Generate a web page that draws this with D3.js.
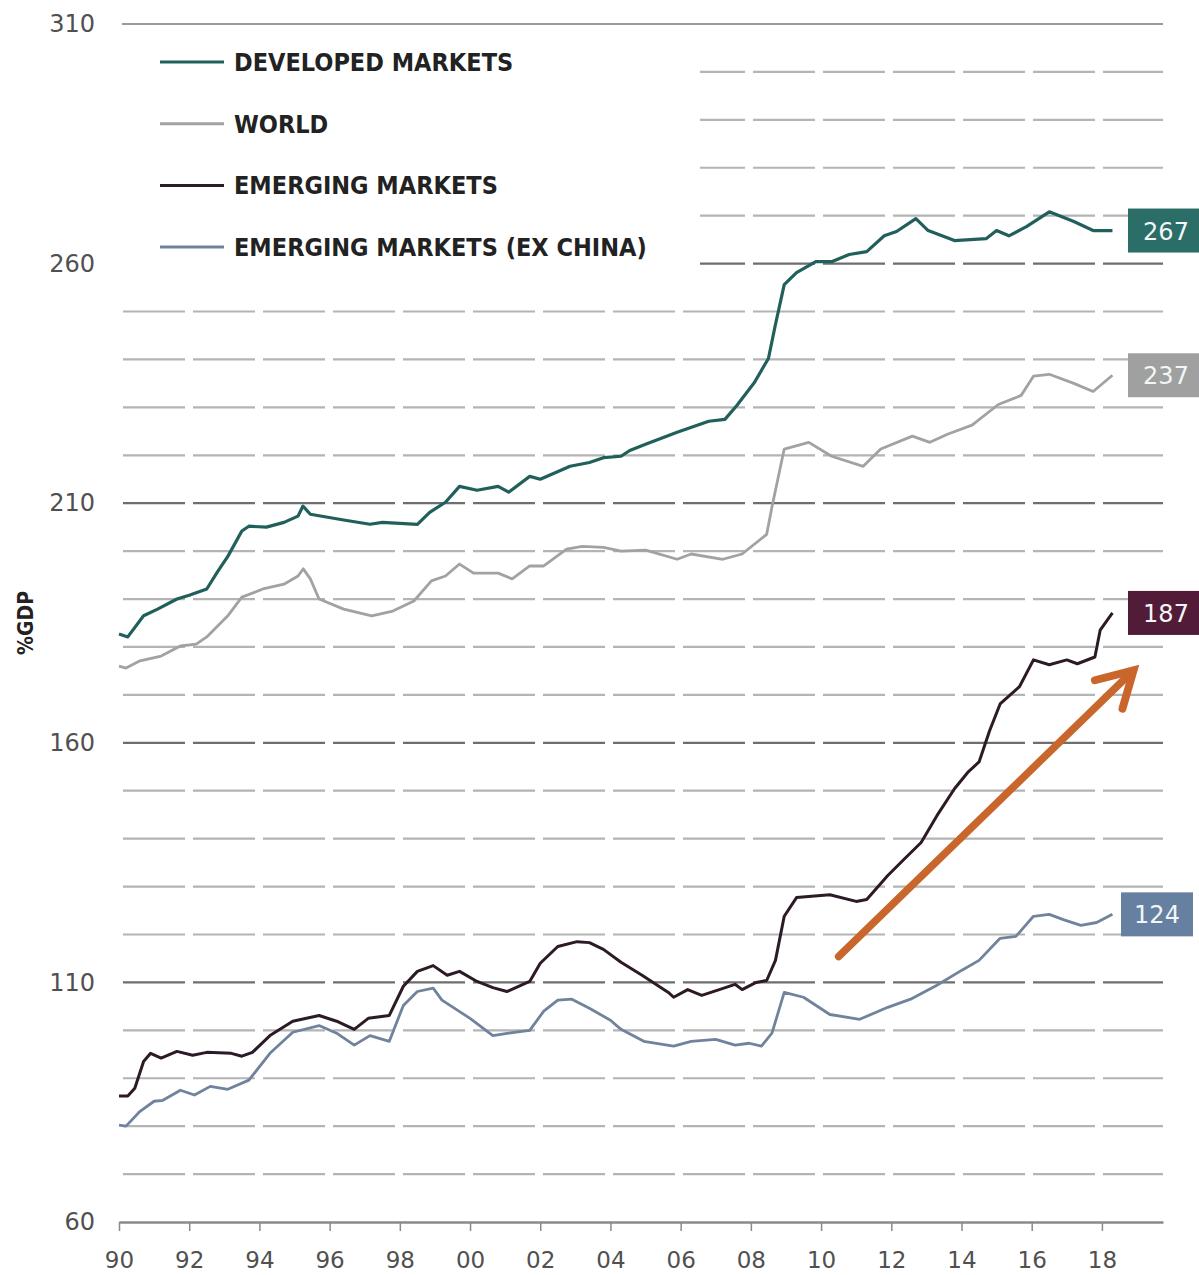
<!DOCTYPE html>
<html>
<head>
<meta charset="utf-8">
<script src="https://cdn.jsdelivr.net/npm/d3@7"></script>
<style>
  body { margin: 0; background: #fff; }
</style>
</head>
<body>
<div id="chart"></div>
<script>
// values: [year, %GDP]
const developed = [
  [1990.0,182.7],[1990.25,182.1],[1990.7,186.5],[1991.1,187.9],[1991.65,190.0],[1992.0,190.8],[1992.5,192.1],
  [1992.8,195.6],[1993.1,198.9],[1993.5,204.2],[1993.7,205.2],[1994.2,205.0],[1994.7,206.0],[1995.1,207.3],
  [1995.24,209.4],[1995.45,207.7],[1996.4,206.5],[1997.15,205.6],[1997.5,206.0],[1998.5,205.6],[1998.85,208.1],
  [1999.3,210.2],[1999.7,213.5],[2000.2,212.7],[2000.8,213.5],[2001.1,212.3],[2001.7,215.6],[2002.0,215.0],
  [2002.85,217.7],[2003.4,218.5],[2003.8,219.5],[2004.3,219.8],[2004.55,221.0],[2005.0,222.3],[2005.9,224.8],
  [2006.8,227.1],[2007.26,227.5],[2007.6,230.4],[2008.1,235.2],[2008.5,240.2],[2008.7,247.3],[2008.95,255.6],
  [2009.3,258.1],[2009.85,260.4],[2010.3,260.4],[2010.8,261.9],[2011.3,262.5],[2011.8,265.8],[2012.15,266.7],
  [2012.7,269.4],[2013.05,266.9],[2013.8,264.8],[2014.7,265.2],[2015.0,266.9],[2015.35,265.8],[2015.85,267.7],
  [2016.5,270.8],[2017.2,268.8],[2017.75,266.9],[2018.3,266.9]
];
const world = [
  [1990.0,176.0],[1990.2,175.6],[1990.6,177.1],[1991.2,178.1],[1991.75,180.2],[1992.2,180.6],[1992.5,182.1],
  [1993.1,186.5],[1993.5,190.4],[1994.1,192.1],[1994.7,193.1],[1995.1,194.8],[1995.25,196.3],[1995.45,194.2],
  [1995.7,190.0],[1996.4,187.9],[1997.2,186.5],[1997.8,187.5],[1998.4,189.6],[1998.9,193.8],[1999.3,194.8],
  [1999.7,197.3],[2000.1,195.4],[2000.8,195.4],[2001.2,194.2],[2001.7,196.9],[2002.1,196.9],[2002.75,200.4],
  [2003.2,201.0],[2003.8,200.8],[2004.3,200.0],[2005.0,200.2],[2005.9,198.3],[2006.3,199.4],[2007.2,198.3],
  [2007.75,199.4],[2008.45,203.5],[2008.6,209.2],[2008.95,221.3],[2009.65,222.7],[2010.3,219.8],[2011.2,217.7],
  [2011.7,221.3],[2012.6,224.0],[2013.1,222.7],[2013.6,224.4],[2014.3,226.3],[2015.05,230.6],[2015.7,232.5],
  [2016.05,236.5],[2016.5,236.9],[2017.2,235.0],[2017.75,233.3],[2018.3,236.7]
];
const emerging = [
  [1990.0,86.3],[1990.25,86.3],[1990.45,87.9],[1990.7,93.5],[1990.9,95.2],[1991.2,94.2],[1991.65,95.6],
  [1992.1,94.8],[1992.5,95.4],[1993.2,95.2],[1993.5,94.6],[1993.8,95.4],[1994.3,98.9],[1994.95,101.9],
  [1995.7,103.1],[1996.2,101.9],[1996.7,100.2],[1997.1,102.5],[1997.7,103.1],[1998.1,109.2],[1998.5,112.3],
  [1998.95,113.5],[1999.35,111.5],[1999.7,112.3],[2000.2,110.2],[2000.65,108.9],[2001.05,108.1],[2001.7,110.2],
  [2002.0,114.0],[2002.5,117.5],[2003.05,118.5],[2003.4,118.3],[2003.8,116.9],[2004.3,114.2],[2004.9,111.5],
  [2005.65,107.9],[2005.8,106.9],[2006.2,108.5],[2006.6,107.3],[2007.1,108.5],[2007.55,109.6],[2007.75,108.5],
  [2008.15,110.0],[2008.45,110.4],[2008.7,114.6],[2008.95,123.8],[2009.3,127.7],[2010.25,128.3],[2011.0,126.9],
  [2011.3,127.3],[2011.9,132.3],[2012.35,135.6],[2012.85,139.2],[2013.3,144.8],[2013.8,150.4],[2014.2,154.0],
  [2014.5,156.0],[2014.8,162.5],[2015.1,168.1],[2015.65,171.7],[2016.05,177.3],[2016.5,176.3],[2017.0,177.3],
  [2017.3,176.5],[2017.8,177.9],[2017.95,183.5],[2018.3,187.1]
];
const emExChina = [
  [1990.0,80.2],[1990.2,80.0],[1990.6,83.1],[1991.0,85.2],[1991.25,85.4],[1991.75,87.5],[1992.15,86.5],
  [1992.6,88.3],[1993.1,87.7],[1993.7,89.6],[1994.3,95.2],[1994.95,99.6],[1995.7,101.0],[1996.2,99.4],
  [1996.7,96.9],[1997.15,98.9],[1997.7,97.7],[1998.1,105.2],[1998.5,108.1],[1998.95,108.8],[1999.2,106.3],
  [2000.0,102.5],[2000.65,98.9],[2001.1,99.4],[2001.7,100.0],[2002.1,104.0],[2002.5,106.3],[2002.9,106.5],
  [2003.4,104.6],[2004.0,102.1],[2004.3,100.2],[2004.95,97.7],[2005.8,96.7],[2006.3,97.7],[2007.0,98.1],
  [2007.55,96.9],[2007.95,97.3],[2008.3,96.7],[2008.6,99.4],[2008.95,107.9],[2009.5,106.9],[2010.25,103.3],
  [2011.1,102.3],[2011.9,104.8],[2012.55,106.5],[2013.3,109.4],[2014.0,112.5],[2014.5,114.6],[2015.1,119.2],
  [2015.55,119.6],[2016.05,123.8],[2016.5,124.2],[2016.9,123.1],[2017.4,121.9],[2017.85,122.5],[2018.3,124.2]
];

const seriesNames = ["DEVELOPED MARKETS", "WORLD", "EMERGING MARKETS", "EMERGING MARKETS (EX CHINA)"];
const endLabels = ["267", "237", "187", "124"];
const xTickYears = d3.range(1990, 2019, 2);
const yTickValues = [60, 110, 160, 210, 260, 310];
const gridValues = d3.range(70, 310, 10);
const majorGrid = [110, 160, 210, 260];
// arrow annotation in data units: [year, %GDP]
const arrowFrom = [2010.5, 115.4];
const arrowTo = [2018.8, 174.4];

function createChart() {
    let w = 1199;
    let h = 1275;
    let margin = {top: 24, right: 36, bottom: 53, left: 119};

    const svg = d3.select("#chart")
                .append("svg")
                .attr("width", w)
                .attr("height", h);

    let x = d3.scaleLinear()
            .domain([1990, 2019.74])
            .range([margin.left, w - margin.right]);
    let y = d3.scaleLinear()
            .domain([60, 310])
            .range([h - margin.bottom, margin.top]);

    let lineColors = ["#21605a", "#a2a2a2", "#2c1a26", "#71839c"];
    let boxColors = ["#2b6e68", "#a0a0a0", "#521b38", "#6680a2"];
    let lineWidths = [3.2, 2.8, 3, 2.8];
    let allSeries = [developed, world, emerging, emExChina];

    // dashed grid, gaps sit on the 2-year ticks
    svg.append("g")
        .selectAll("line")
        .data(gridValues)
        .enter()
        .append("line")
        .attr("x1", x(1990) + 4)
        .attr("x2", x(2019.74))
        .attr("y1", d => y(d))
        .attr("y2", d => y(d))
        .style("stroke", d => majorGrid.includes(d) ? "#6e6e6e" : "#b4b4b4")
        .style("stroke-width", 2.2)
        .style("stroke-dasharray", "62 8");

    // top solid line
    svg.append("line")
        .attr("x1", x(1990) + 3)
        .attr("x2", x(2019.74))
        .attr("y1", y(310))
        .attr("y2", y(310))
        .style("stroke", "#9a9a9a")
        .style("stroke-width", 2.2);

    // bottom axis
    let xAxis = svg.append("g")
        .attr("transform", `translate(0,${y(60)})`)
        .call(d3.axisBottom(x)
            .tickValues(xTickYears)
            .tickSize(9)
            .tickSizeOuter(0)
            .tickPadding(21)
            .tickFormat(d => String(d).slice(2)));
    xAxis.select(".domain").style("stroke", "#8a8a8a").style("stroke-width", 2.5);
    xAxis.selectAll(".tick line").style("stroke", "#8a8a8a").style("stroke-width", 1.5);
    xAxis.selectAll(".tick text")
        .style("font-family", "DejaVu Sans")
        .style("font-size", "23px")
        .style("fill", "#505050");

    // left labels only
    let yAxis = svg.append("g")
        .attr("transform", `translate(${margin.left},0)`)
        .call(d3.axisLeft(y).tickValues(yTickValues).tickSize(0).tickPadding(24));
    yAxis.select(".domain").remove();
    yAxis.selectAll(".tick text")
        .style("font-family", "DejaVu Sans")
        .style("font-size", "24px")
        .style("fill", "#505050");

    svg.append("text")
        .attr("transform", `translate(33,${y(185)}) rotate(-90)`)
        .attr("text-anchor", "middle")
        .style("font-family", "'DejaVu Sans Condensed', 'DejaVu Sans'")
        .style("font-stretch", "condensed")
        .style("font-weight", "bold")
        .style("font-size", "21px")
        .style("fill", "#222")
        .text("%GDP");

    // series lines
    let line = d3.line()
        .x(d => x(d[0]))
        .y(d => y(d[1]));

    allSeries.forEach((s, i) => {
        svg.append("path")
            .datum(s)
            .attr("d", line)
            .style("fill", "none")
            .style("stroke", lineColors[i])
            .style("stroke-width", lineWidths[i])
            .style("stroke-linejoin", "round");
    });

    // end value boxes
    allSeries.forEach((s, i) => {
        let last = s[s.length - 1];
        let bx = i == 3 ? 1121 : 1128;
        let g = svg.append("g")
            .attr("transform", `translate(${bx},${y(last[1])})`);
        g.append("rect")
            .attr("x", 0)
            .attr("y", -22)
            .attr("width", i == 3 ? 72 : 74)
            .attr("height", 44)
            .style("fill", boxColors[i]);
        g.append("text")
            .attr("x", i == 3 ? 36 : 38)
            .attr("y", 9)
            .attr("text-anchor", "middle")
            .style("font-family", "DejaVu Sans")
            .style("font-size", "24px")
            .style("fill", "#f2f6f6")
            .text(endLabels[i]);
    });

    // orange arrow
    let defs = svg.append("defs");
    defs.append("marker")
        .attr("id", "arrowhead")
        .attr("viewBox", "0 0 10 10")
        .attr("refX", 7)
        .attr("refY", 5)
        .attr("markerWidth", 6.6)
        .attr("markerHeight", 6.6)
        .attr("orient", "auto")
        .append("path")
        .attr("d", "M1,1 L8,5 L1,9")
        .style("fill", "none")
        .style("stroke", "#c8662c")
        .style("stroke-width", 1.6)
        .style("stroke-linecap", "round")
        .style("stroke-linejoin", "miter");
    svg.append("line")
        .attr("x1", x(arrowFrom[0]))
        .attr("y1", y(arrowFrom[1]))
        .attr("x2", x(arrowTo[0]))
        .attr("y2", y(arrowTo[1]))
        .style("stroke", "#c8662c")
        .style("stroke-width", 7.5)
        .style("stroke-linecap", "round")
        .attr("marker-end", "url(#arrowhead)");

    // legend sits on a white panel over the grid
    let legend = svg.append("g");
    legend.append("rect")
        .attr("x", x(1990) + 3)
        .attr("y", 34)
        .attr("width", 700 - x(1990) - 3)
        .attr("height", 240)
        .style("fill", "#fff");
    seriesNames.forEach((name, i) => {
        let item = legend.append("g")
            .attr("transform", `translate(160,${62 + i * 61.7})`);
        item.append("line")
            .attr("x1", 0)
            .attr("x2", 64)
            .attr("y1", 0)
            .attr("y2", 0)
            .style("stroke", lineColors[i])
            .style("stroke-width", 3);
        item.append("text")
            .attr("x", 74)
            .attr("y", 9)
            .style("font-family", "'DejaVu Sans Condensed', 'DejaVu Sans'")
            .style("font-stretch", "condensed")
            .style("font-weight", "bold")
            .style("font-size", "25px")
            .style("fill", "#222")
            .text(name);
    });
}

createChart();
</script>
</body>
</html>
